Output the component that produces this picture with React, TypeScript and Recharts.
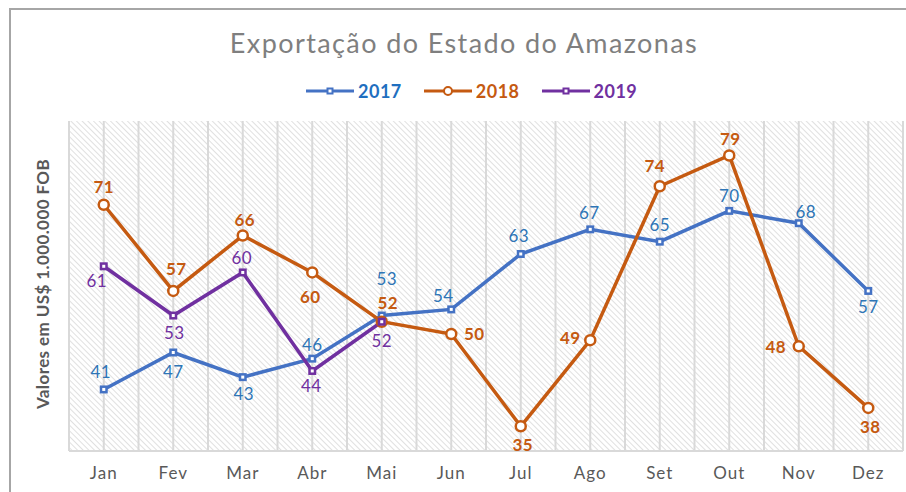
import { LineChart, Line, XAxis, YAxis, CartesianGrid, ReferenceLine } from "recharts";

const months = ["Jan", "Fev", "Mar", "Abr", "Mai", "Jun", "Jul", "Ago", "Set", "Out", "Nov", "Dez"];
const v2017 = [41, 47, 43, 46, 53, 54, 63, 67, 65, 70, 68, 57];
const v2018 = [71, 57, 66, 60, 52, 50, 35, 49, 74, 79, 48, 38];
const v2019 = [61, 53, 60, 44, 52];
const yTicks = [31, 56, 81];

// label offsets (dx, dy) from each point, mimicking the hand placed Excel labels
const off2017 = [[-3, -18], [0, 19], [1, 16], [0, -14], [5, -37], [-8, -14], [-2, -18], [-1, -17], [0, -17], [0, -15], [7, -12], [0, 16]];
const off2018 = [[0, -18], [3, -22], [2, -16], [-2, 24], [6, -19], [23, -1], [2, 18], [-20, -3], [-5, -21], [1, -17], [-23, 0], [2, 19]];
const off2019 = [[-7, 14], [1, 17], [-1, -15], [-1, 15], [0, 19]];

const BLUE = "#4472C4";
const BLUE_TXT = "#2E75B6";
const ORANGE = "#C55A11";
const PURPLE = "#7030A0";
const GRID = "#d9d9d9";
const FONT = "Lato, 'Open Sans', sans-serif";

const data = months.map((m, i) => ({
  i,
  m,
  a: v2017[i],
  b: v2018[i],
  c: i < v2019.length ? v2019[i] : null,
}));

const centers = months.map((_, i) => i);
const bounds = [...months.map((_, i) => i - 0.5), months.length - 0.5];

const series = [
  { key: "a", name: "2017", color: BLUE, txt: BLUE_TXT, shape: "square", bold: false, off: off2017 },
  { key: "b", name: "2018", color: ORANGE, txt: ORANGE, shape: "circle", bold: true, off: off2018 },
  { key: "c", name: "2019", color: PURPLE, txt: PURPLE, shape: "square", bold: false, off: off2019 },
];

function makeDot(color: string, shape: string) {
  return (p: any) => {
    if (p.cx == null || p.cy == null || p.value == null) return <g key={p.key} />;
    if (shape === "circle")
      return <circle key={p.key} cx={p.cx} cy={p.cy} r={5} fill="#fff" stroke={color} strokeWidth={2.5} />;
    return <rect key={p.key} x={p.cx - 2.75} y={p.cy - 2.75} width={5.5} height={5.5} fill="#fff" stroke={color} strokeWidth={2.5} />;
  };
}

function makeLabel(color: string, bold: boolean, off: number[][]) {
  return (p: any) => {
    if (p.value == null || p.x == null) return <g key={p.index} />;
    const o = off[p.index] || [0, -18];
    return (
      <text key={p.index} x={p.x + o[0]} y={p.y + o[1]} textAnchor="middle" dominantBaseline="central"
        fill={color} fontSize={17} fontWeight={bold ? 700 : 400} fontFamily={FONT} letterSpacing={0.5}>
        {p.value}
      </text>
    );
  };
}

function LegendMark({ color, shape }: { color: string; shape: string }) {
  return (
    <svg width={48} height={12} style={{ marginRight: 4 }}>
      <line x1={0} y1={6} x2={48} y2={6} stroke={color} strokeWidth={3} />
      {shape === "circle"
        ? <circle cx={24} cy={6} r={4} fill="#fff" stroke={color} strokeWidth={2} />
        : <rect x={21.5} y={3.5} width={5} height={5} fill="#fff" stroke={color} strokeWidth={2} />}
    </svg>
  );
}

export default function App() {
  return (
    <div style={{ position: "absolute", left: 0, top: 0, width: 906, height: 492, background: "#fff", overflow: "hidden" }}>
      <svg width={0} height={0} style={{ position: "absolute" }}>
        <defs>
          <pattern id="hatch" patternUnits="userSpaceOnUse" width={4} height={4} patternTransform="rotate(-45)">
            <rect width={4} height={4} fill="#fff" />
            <line x1={0} y1={0} x2={0} y2={4} stroke="#cfcfcf" strokeWidth={1.3} />
          </pattern>
        </defs>
      </svg>

      {/* chart area border, cropped on the right and bottom */}
      <div style={{ position: "absolute", left: 9, top: 8, width: 920, height: 500, borderLeft: "2px solid #a6a6a6", borderTop: "2px solid #a6a6a6" }} />

      <div style={{ position: "absolute", left: 11, top: 29, width: 906, lineHeight: "27px", textAlign: "center", fontFamily: FONT, fontSize: 27, color: "#7f7f7f", letterSpacing: 1.4 }}>
        Exportação do Estado do Amazonas
      </div>

      <div style={{ position: "absolute", left: 306, top: 80, display: "flex", gap: 22, fontFamily: FONT, fontSize: 18, fontWeight: 700 }}>
        {series.map((s) => (
          <div key={s.key} style={{ display: "flex", alignItems: "center", color: s.key === "a" ? "#1F6FC0" : s.color }}>
            <LegendMark color={s.color} shape={s.shape} />
            <span style={{ letterSpacing: 0.5 }}>{s.name}</span>
          </div>
        ))}
      </div>

      <div style={{ position: "absolute", left: 42, top: 284, transform: "translate(-50%, -50%) rotate(-90deg)", whiteSpace: "nowrap", fontFamily: FONT, fontSize: 17, fontWeight: 700, color: "#595959", letterSpacing: 0.4 }}>
        Valores em US$ 1.000.000 FOB
      </div>

      <div style={{ position: "absolute", left: 0, top: 0 }}>
        <LineChart width={906} height={492} data={data} margin={{ top: 121, right: 3, bottom: 11, left: 69 }}>
          <CartesianGrid xAxisId="m" vertical={false} fill="url(#hatch)" fillOpacity={1} stroke={GRID} strokeWidth={2} horizontalValues={yTicks} />
          <XAxis xAxisId="b" type="number" dataKey="i" domain={[-0.5, months.length - 0.5]} ticks={bounds}
            tick={false} tickSize={5} tickLine={{ stroke: GRID, strokeWidth: 2 }} axisLine={false} height={0} allowDataOverflow />
          <XAxis xAxisId="m" type="number" dataKey="i" domain={[-0.5, months.length - 0.5]} ticks={centers}
            tickFormatter={(v: number) => months[v]} interval={0} height={30} tickLine={false}
            axisLine={{ stroke: GRID, strokeWidth: 2 }} tickMargin={10}
            tick={{ fill: "#595959", fontSize: 17, fontFamily: FONT, letterSpacing: 1 }} allowDataOverflow />
          <YAxis domain={[31, 84.6]} ticks={yTicks} width={0} tick={false} axisLine={false} tickLine={false} allowDataOverflow />
          {[...centers, ...bounds].map((v) => (
            <ReferenceLine key={"v" + v} xAxisId="m" x={v} stroke={GRID} strokeWidth={2} ifOverflow="extendDomain" />
          ))}
          {series.map((s) => (
            <Line key={s.key} xAxisId="m" dataKey={s.key} stroke={s.color} strokeWidth={3.5} isAnimationActive={false}
              dot={makeDot(s.color, s.shape)} activeDot={false} connectNulls={false}
              label={makeLabel(s.txt, s.bold, s.off)} />
          ))}
        </LineChart>
      </div>
    </div>
  );
}
